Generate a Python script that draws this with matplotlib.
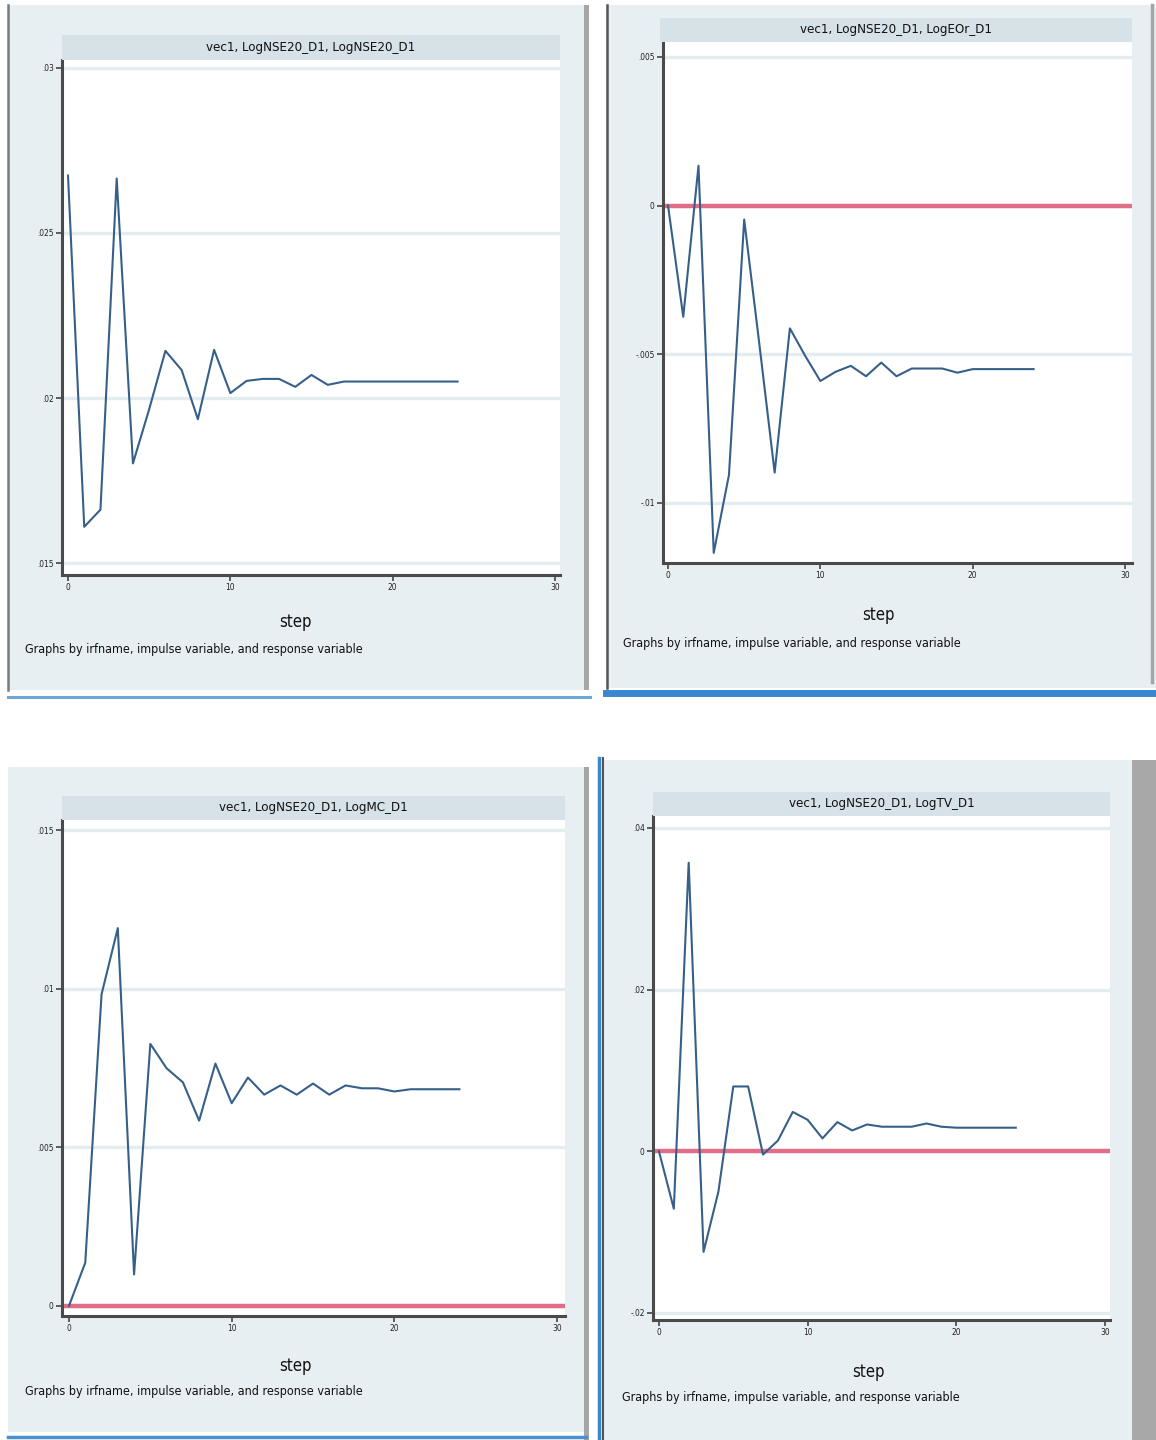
import matplotlib
matplotlib.use("Agg")
import matplotlib.pyplot as plt
from matplotlib.patches import Rectangle
from matplotlib.lines import Line2D
import numpy as np

W, H = 1156, 1440

steps = np.arange(0, 25)

# impulse LogNSE20_D1 -> response LogNSE20_D1
irf_nse = [.02674, .0161, .01662, .02665, .01802, .01966, .02143, .02085, .01936,
           .02146, .02015, .02052, .02058, .02058, .02034, .0207, .0204, .0205,
           .0205, .0205, .0205, .0205, .0205, .0205, .0205]
# impulse LogNSE20_D1 -> response LogEOr_D1
irf_eor = [0, -.00374, .00134, -.01168, -.00906, -.00047, -.00468, -.00898, -.00413,
           -.00505, -.0059, -.00559, -.00539, -.00574, -.00528, -.00574, -.00548,
           -.00548, -.00548, -.00562, -.0055, -.0055, -.0055, -.0055, -.0055]
# impulse LogNSE20_D1 -> response LogMC_D1
irf_mc = [0, .00136, .00982, .01191, .00099, .00826, .00749, .00705, .00584,
          .00764, .00639, .0072, .00666, .00695, .00666, .00701, .00666, .00695,
          .00686, .00686, .00676, .00683, .00683, .00683, .00683]
# impulse LogNSE20_D1 -> response LogTV_D1
irf_tv = [0, -.0071, .0357, -.01244, -.00499, .00802, .00802, -.0004, .00132,
          .00487, .0039, .0016, .00361, .00258, .00332, .00304, .00304, .00304,
          .00344, .00304, .00292, .00292, .00292, .00292, .00292]

titles = ["vec1, LogNSE20_D1, LogNSE20_D1", "vec1, LogNSE20_D1, LogEOr_D1",
          "vec1, LogNSE20_D1, LogMC_D1", "vec1, LogNSE20_D1, LogTV_D1"]
yticks_nse = [.015, .02, .025, .03]
ylabels_nse = [".015", ".02", ".025", ".03"]
yticks_eor = [-.01, -.005, 0, .005]
ylabels_eor = ["-.01", "-.005", "0", ".005"]
yticks_mc = [0, .005, .01, .015]
ylabels_mc = ["0", ".005", ".01", ".015"]
yticks_tv = [-.02, 0, .02, .04]
ylabels_tv = ["-.02", "0", ".02", ".04"]
xticks = [0, 10, 20, 30]
note = "Graphs by irfname, impulse variable, and response variable"

BG = "#e8eff2"
STRIP = "#d6e1e8"
NAVY = "#36608a"
RED = "#e0607c"
GRID = "#e3edf0"
INK = "#111111"
FONT = dict(family=["Liberation Sans Narrow", "DejaVu Sans"], fontstretch="condensed")

fig = plt.figure(figsize=(W / 100, H / 100), dpi=100)
fig.patch.set_facecolor("white")


def rect(x0, y0, x1, y1, color, z=0):
    fig.add_artist(Rectangle((x0 / W, 1 - y1 / H), (x1 - x0) / W, (y1 - y0) / H,
                             transform=fig.transFigure, facecolor=color,
                             edgecolor="none", zorder=z))


def vline(x, y0, y1, color, lw):
    fig.add_artist(Line2D([x / W, x / W], [1 - y0 / H, 1 - y1 / H],
                          transform=fig.transFigure, color=color, lw=lw, zorder=1))


def hline(y, x0, x1, color, lw):
    fig.add_artist(Line2D([x0 / W, x1 / W], [1 - y / H, 1 - y / H],
                          transform=fig.transFigure, color=color, lw=lw, zorder=1))


def panel(box, strip, vals, title, yt, yl, xlim, ylim, zero, step_xy, note_xy):
    x0, y0, x1, y1 = box
    # title strip above the plot region
    rect(strip[0], strip[1], strip[2], strip[3], STRIP, z=0.5)
    fig.text((strip[0] + strip[2]) / 2 / W, 1 - (strip[1] + strip[3]) / 2 / H, title,
             ha="center", va="center", fontsize=9.5, color=INK, **FONT)
    ax = fig.add_axes([x0 / W, 1 - y1 / H, (x1 - x0) / W, (y1 - y0) / H])
    ax.set_facecolor("white")
    for y in yt:
        ax.axhline(y, color=GRID, lw=2.4, zorder=0)
    if zero:
        ax.axhline(0, color=RED, lw=3.2, zorder=1, alpha=0.9)
    ax.plot(steps, vals, color=NAVY, lw=1.5, zorder=2)
    ax.set_xlim(*xlim)
    ax.set_ylim(*ylim)
    ax.set_xticks(xticks)
    ax.set_xticklabels([str(t) for t in xticks], fontsize=6, color="#222222", **FONT)
    ax.set_yticks(yt)
    ax.set_yticklabels(yl, fontsize=6, color="#222222", **FONT)
    ax.tick_params(length=4, width=1.2, color="#444444", pad=2)
    for s in ("top", "right"):
        ax.spines[s].set_visible(False)
    for s in ("left", "bottom"):
        ax.spines[s].set_linewidth(2.2)
        ax.spines[s].set_color("#4a4a4a")
    fig.text(step_xy[0] / W, 1 - step_xy[1] / H, "step", ha="center", va="center",
             fontsize=12, color=INK, **FONT)
    fig.text(note_xy[0] / W, 1 - note_xy[1] / H, note, ha="left", va="center",
             fontsize=9, color=INK, **FONT)
    return ax


# top left window
rect(8, 5, 586, 690, BG)
vline(8, 5, 690, "#7a7a7a", 1.8)
rect(584, 5, 589, 690, "#a6a6a6", z=0.6)
hline(697, 8, 590, "#6ea6d6", 2.2)
panel((62, 60, 560, 575), (62, 35, 560, 60), irf_nse, titles[0],
      yticks_nse, ylabels_nse, (-0.37, 30.31), (.01464, .03024), False,
      (295, 622), (25, 650))

# top right window
rect(606, 5, 1156, 688, BG)
vline(607, 5, 688, "#555555", 1.8)
vline(1152, 5, 682, "#a6a6a6", 2.5)
hline(693, 606, 1156, "#3a87cf", 5)
panel((663, 42, 1132, 563), (660, 18, 1132, 42), irf_eor, titles[1],
      yticks_eor, ylabels_eor, (-0.33, 30.46), (-.01202, .0055), True,
      (878, 615), (623, 643))

# bottom left window
rect(8, 767, 586, 1432, BG)
rect(584, 767, 589, 1440, "#a6a6a6", z=0.6)
hline(1437, 8, 586, "#4a90d0", 2.5)
panel((62, 820, 565, 1316), (62, 796, 565, 820), irf_mc, titles[2],
      yticks_mc, ylabels_mc, (-0.43, 30.49), (-.00032, .01532), True,
      (295, 1366), (25, 1392))

# bottom right window
rect(603, 760, 1132, 1440, BG)
vline(599, 758, 1440, "#3a87cf", 2.5)
vline(603, 758, 1440, "#555555", 1.5)
rect(1132, 760, 1156, 1440, "#a8a8a8", z=0.6)
panel((653, 816, 1110, 1320), (653, 792, 1110, 816), irf_tv, titles[3],
      yticks_tv, ylabels_tv, (-0.40, 30.34), (-.02087, .04148), True,
      (868, 1372), (622, 1397))

fig.savefig("out.png", dpi=100)
